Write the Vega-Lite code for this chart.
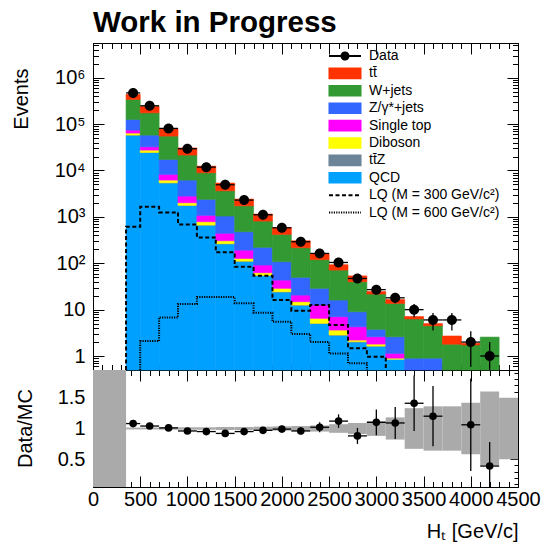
{
"$schema": "https://vega.github.io/schema/vega-lite/v6.json",
"autosize": {"type": "none"},
"width": 425,
"height": 444,
"padding": {"left": 93, "top": 43, "right": 26, "bottom": 55},
"background": "#ffffff",
"title": {"text": "Work in Progress", "anchor": "start", "frame": "group", "font": "Liberation Sans", "fontSize": 29.5, "fontWeight": "bold", "color": "#000000", "baseline": "alphabetic", "offset": 12, "dy": 31},
"config": {
  "view": {"stroke": "#000000", "strokeWidth": 1},
  "axis": {"labelFont": "Liberation Sans", "titleFont": "Liberation Sans", "labelFontSize": 20, "titleFontSize": 20, "titleFontWeight": "normal", "labelColor": "#000000", "titleColor": "#000000", "tickColor": "#000000", "domainColor": "#000000", "tickWidth": 1, "domainWidth": 1, "grid": false, "zindex": 1, "labelFlush": false, "labelOverlap": false, "minExtent": 0},
  "legend": {"labelFont": "Liberation Sans", "labelFontSize": 14, "labelColor": "#000000", "labelOffset": 7, "symbolOffset": 0, "rowPadding": 1.4, "clipHeight": 16, "padding": 0, "labelLimit": 300, "symbolSize": 1024, "symbolStrokeWidth": 2, "titlePadding": 0}
},
"datasets": {
  "mc": [
    {"lo":350,"hi":500,"series":"QCD","v":57900},
    {"lo":350,"hi":500,"series":"tt\u0304Z","v":100},
    {"lo":350,"hi":500,"series":"Diboson","v":6000},
    {"lo":350,"hi":500,"series":"Single top","v":10300},
    {"lo":350,"hi":500,"series":"Z/\u03b3*+jets","v":51700},
    {"lo":350,"hi":500,"series":"W+jets","v":215000},
    {"lo":350,"hi":500,"series":"tt\u0304","v":96000},
    {"lo":500,"hi":700,"series":"QCD","v":24400},
    {"lo":500,"hi":700,"series":"tt\u0304Z","v":100},
    {"lo":500,"hi":700,"series":"Diboson","v":3000},
    {"lo":500,"hi":700,"series":"Single top","v":4900},
    {"lo":500,"hi":700,"series":"Z/\u03b3*+jets","v":25500},
    {"lo":500,"hi":700,"series":"W+jets","v":117100},
    {"lo":500,"hi":700,"series":"tt\u0304","v":65000},
    {"lo":700,"hi":900,"series":"QCD","v":5400},
    {"lo":700,"hi":900,"series":"tt\u0304Z","v":30},
    {"lo":700,"hi":900,"series":"Diboson","v":780},
    {"lo":700,"hi":900,"series":"Single top","v":2030},
    {"lo":700,"hi":900,"series":"Z/\u03b3*+jets","v":9060},
    {"lo":700,"hi":900,"series":"W+jets","v":37800},
    {"lo":700,"hi":900,"series":"tt\u0304","v":24900},
    {"lo":900,"hi":1100,"series":"QCD","v":1760},
    {"lo":900,"hi":1100,"series":"tt\u0304Z","v":10},
    {"lo":900,"hi":1100,"series":"Diboson","v":244},
    {"lo":900,"hi":1100,"series":"Single top","v":792},
    {"lo":900,"hi":1100,"series":"Z/\u03b3*+jets","v":3404},
    {"lo":900,"hi":1100,"series":"W+jets","v":15290},
    {"lo":900,"hi":1100,"series":"tt\u0304","v":9100},
    {"lo":1100,"hi":1300,"series":"QCD","v":662},
    {"lo":1100,"hi":1300,"series":"tt\u0304Z","v":4},
    {"lo":1100,"hi":1300,"series":"Diboson","v":119},
    {"lo":1100,"hi":1300,"series":"Single top","v":292},
    {"lo":1100,"hi":1300,"series":"Z/\u03b3*+jets","v":1307},
    {"lo":1100,"hi":1300,"series":"W+jets","v":6546},
    {"lo":1100,"hi":1300,"series":"tt\u0304","v":3470},
    {"lo":1300,"hi":1500,"series":"QCD","v":262},
    {"lo":1300,"hi":1500,"series":"tt\u0304Z","v":2},
    {"lo":1300,"hi":1500,"series":"Diboson","v":41},
    {"lo":1300,"hi":1500,"series":"Single top","v":136},
    {"lo":1300,"hi":1500,"series":"Z/\u03b3*+jets","v":599},
    {"lo":1300,"hi":1500,"series":"W+jets","v":2610},
    {"lo":1300,"hi":1500,"series":"tt\u0304","v":1700},
    {"lo":1500,"hi":1700,"series":"QCD","v":110},
    {"lo":1500,"hi":1700,"series":"tt\u0304Z","v":1},
    {"lo":1500,"hi":1700,"series":"Diboson","v":16},
    {"lo":1500,"hi":1700,"series":"Single top","v":65},
    {"lo":1500,"hi":1700,"series":"Z/\u03b3*+jets","v":286},
    {"lo":1500,"hi":1700,"series":"W+jets","v":1256},
    {"lo":1500,"hi":1700,"series":"tt\u0304","v":686},
    {"lo":1700,"hi":1900,"series":"QCD","v":54.3},
    {"lo":1700,"hi":1900,"series":"tt\u0304Z","v":0.5},
    {"lo":1700,"hi":1900,"series":"Diboson","v":7.7},
    {"lo":1700,"hi":1900,"series":"Single top","v":29},
    {"lo":1700,"hi":1900,"series":"Z/\u03b3*+jets","v":128.5},
    {"lo":1700,"hi":1900,"series":"W+jets","v":592},
    {"lo":1700,"hi":1900,"series":"tt\u0304","v":338},
    {"lo":1900,"hi":2100,"series":"QCD","v":24},
    {"lo":1900,"hi":2100,"series":"tt\u0304Z","v":0.3},
    {"lo":1900,"hi":2100,"series":"Diboson","v":4.5},
    {"lo":1900,"hi":2100,"series":"Single top","v":14.6},
    {"lo":1900,"hi":2100,"series":"Z/\u03b3*+jets","v":64.6},
    {"lo":1900,"hi":2100,"series":"W+jets","v":311},
    {"lo":1900,"hi":2100,"series":"tt\u0304","v":171},
    {"lo":2100,"hi":2300,"series":"QCD","v":12.4},
    {"lo":2100,"hi":2300,"series":"tt\u0304Z","v":0.2},
    {"lo":2100,"hi":2300,"series":"Diboson","v":2.2},
    {"lo":2100,"hi":2300,"series":"Single top","v":5.8},
    {"lo":2100,"hi":2300,"series":"Z/\u03b3*+jets","v":29.1},
    {"lo":2100,"hi":2300,"series":"W+jets","v":166.3},
    {"lo":2100,"hi":2300,"series":"tt\u0304","v":89},
    {"lo":2300,"hi":2500,"series":"QCD","v":5.0},
    {"lo":2300,"hi":2500,"series":"tt\u0304Z","v":0.06},
    {"lo":2300,"hi":2500,"series":"Diboson","v":1.44},
    {"lo":2300,"hi":2500,"series":"Single top","v":6.1},
    {"lo":2300,"hi":2500,"series":"Z/\u03b3*+jets","v":16.2},
    {"lo":2300,"hi":2500,"series":"W+jets","v":91.2},
    {"lo":2300,"hi":2500,"series":"tt\u0304","v":40},
    {"lo":2500,"hi":2700,"series":"QCD","v":2.8},
    {"lo":2500,"hi":2700,"series":"tt\u0304Z","v":0.04},
    {"lo":2500,"hi":2700,"series":"Diboson","v":0.79},
    {"lo":2500,"hi":2700,"series":"Single top","v":3.41},
    {"lo":2500,"hi":2700,"series":"Z/\u03b3*+jets","v":9.06},
    {"lo":2500,"hi":2700,"series":"W+jets","v":55.2},
    {"lo":2500,"hi":2700,"series":"tt\u0304","v":21.7},
    {"lo":2700,"hi":2900,"series":"QCD","v":2.0},
    {"lo":2700,"hi":2900,"series":"tt\u0304Z","v":0.04},
    {"lo":2700,"hi":2900,"series":"Diboson","v":0.17},
    {"lo":2700,"hi":2900,"series":"Single top","v":2.07},
    {"lo":2700,"hi":2900,"series":"Z/\u03b3*+jets","v":4.72},
    {"lo":2700,"hi":2900,"series":"W+jets","v":30.9},
    {"lo":2700,"hi":2900,"series":"tt\u0304","v":13.5},
    {"lo":2900,"hi":3100,"series":"QCD","v":1.63},
    {"lo":2900,"hi":3100,"series":"tt\u0304Z","v":0.01},
    {"lo":2900,"hi":3100,"series":"Diboson","v":0.17},
    {"lo":2900,"hi":3100,"series":"Single top","v":0.79},
    {"lo":2900,"hi":3100,"series":"Z/\u03b3*+jets","v":1.16},
    {"lo":2900,"hi":3100,"series":"W+jets","v":17.94},
    {"lo":2900,"hi":3100,"series":"tt\u0304","v":2.8},
    {"lo":3100,"hi":3300,"series":"QCD","v":0.85},
    {"lo":3100,"hi":3300,"series":"Diboson","v":0.05},
    {"lo":3100,"hi":3300,"series":"Single top","v":0.24},
    {"lo":3100,"hi":3300,"series":"Z/\u03b3*+jets","v":1.46},
    {"lo":3100,"hi":3300,"series":"W+jets","v":11.0},
    {"lo":3100,"hi":3300,"series":"tt\u0304","v":2.9},
    {"lo":3300,"hi":3500,"series":"Z/\u03b3*+jets","v":0.9},
    {"lo":3300,"hi":3500,"series":"W+jets","v":5.4},
    {"lo":3300,"hi":3500,"series":"tt\u0304","v":0.8},
    {"lo":3500,"hi":3700,"series":"Z/\u03b3*+jets","v":0.9},
    {"lo":3500,"hi":3700,"series":"W+jets","v":3.6},
    {"lo":3500,"hi":3700,"series":"tt\u0304","v":0.5},
    {"lo":3700,"hi":3900,"series":"W+jets","v":1.8},
    {"lo":3700,"hi":3900,"series":"tt\u0304","v":0.9},
    {"lo":3900,"hi":4100,"series":"W+jets","v":1.73},
    {"lo":3900,"hi":4100,"series":"tt\u0304","v":0.16},
    {"lo":4100,"hi":4300,"series":"W+jets","v":2.56}
  ],
  "obs": [
    {"c":425,"lo":350,"hi":500,"n":470000,"nlo":469314,"nhi":470686,"series":"Data"},
    {"c":600,"lo":500,"hi":700,"n":248000,"nlo":247502,"nhi":248498,"series":"Data"},
    {"c":800,"lo":700,"hi":900,"n":80700,"nlo":80416,"nhi":80984,"series":"Data"},
    {"c":1000,"lo":900,"hi":1100,"n":29400,"nlo":29229,"nhi":29571,"series":"Data"},
    {"c":1200,"lo":1100,"hi":1300,"n":11800,"nlo":11691,"nhi":11909,"series":"Data"},
    {"c":1400,"lo":1300,"hi":1500,"n":4920,"nlo":4850,"nhi":4990,"series":"Data"},
    {"c":1600,"lo":1500,"hi":1700,"n":2300,"nlo":2252,"nhi":2348,"series":"Data"},
    {"c":1800,"lo":1700,"hi":1900,"n":1110,"nlo":1076.7,"nhi":1143.3,"series":"Data"},
    {"c":2000,"lo":1900,"hi":2100,"n":582,"nlo":557.9,"nhi":606.1,"series":"Data"},
    {"c":2200,"lo":2100,"hi":2300,"n":291,"nlo":273.9,"nhi":308.1,"series":"Data"},
    {"c":2400,"lo":2300,"hi":2500,"n":163,"nlo":150.2,"nhi":175.8,"series":"Data"},
    {"c":2600,"lo":2500,"hi":2700,"n":104,"nlo":93.8,"nhi":114.2,"series":"Data"},
    {"c":2800,"lo":2700,"hi":2900,"n":47,"nlo":40.14,"nhi":53.86,"series":"Data"},
    {"c":3000,"lo":2900,"hi":3100,"n":27,"nlo":21.8,"nhi":32.2,"series":"Data"},
    {"c":3200,"lo":3100,"hi":3300,"n":18,"nlo":13.76,"nhi":22.24,"series":"Data"},
    {"c":3400,"lo":3300,"hi":3500,"n":10,"nlo":6.84,"nhi":13.16,"series":"Data"},
    {"c":3600,"lo":3500,"hi":3700,"n":6,"nlo":3.55,"nhi":8.45,"series":"Data"},
    {"c":3800,"lo":3700,"hi":3900,"n":6,"nlo":3.55,"nhi":8.45,"series":"Data"},
    {"c":4000,"lo":3900,"hi":4100,"n":2,"nlo":0.59,"nhi":3.41,"series":"Data"},
    {"c":4200,"lo":4100,"hi":4300,"n":1,"nlo":0,"nhi":2,"series":"Data"}
  ],
  "lq": [
    {"series":"LQ (M = 300 GeV/c\u00b2)","i":0,"x":350,"y":0},
    {"series":"LQ (M = 300 GeV/c\u00b2)","i":1,"x":350,"y":612},
    {"series":"LQ (M = 300 GeV/c\u00b2)","i":2,"x":500,"y":1650},
    {"series":"LQ (M = 300 GeV/c\u00b2)","i":3,"x":700,"y":1250},
    {"series":"LQ (M = 300 GeV/c\u00b2)","i":4,"x":900,"y":689},
    {"series":"LQ (M = 300 GeV/c\u00b2)","i":5,"x":1100,"y":361},
    {"series":"LQ (M = 300 GeV/c\u00b2)","i":6,"x":1300,"y":172},
    {"series":"LQ (M = 300 GeV/c\u00b2)","i":7,"x":1500,"y":84},
    {"series":"LQ (M = 300 GeV/c\u00b2)","i":8,"x":1700,"y":53.8},
    {"series":"LQ (M = 300 GeV/c\u00b2)","i":9,"x":1900,"y":16.1},
    {"series":"LQ (M = 300 GeV/c\u00b2)","i":10,"x":2100,"y":9.5},
    {"series":"LQ (M = 300 GeV/c\u00b2)","i":11,"x":2300,"y":12.6},
    {"series":"LQ (M = 300 GeV/c\u00b2)","i":12,"x":2500,"y":4.66},
    {"series":"LQ (M = 300 GeV/c\u00b2)","i":13,"x":2700,"y":1.47},
    {"series":"LQ (M = 300 GeV/c\u00b2)","i":14,"x":2900,"y":0.97},
    {"series":"LQ (M = 300 GeV/c\u00b2)","i":15,"x":3100,"y":0},
    {"series":"LQ (M = 600 GeV/c\u00b2)","i":0,"x":500,"y":0},
    {"series":"LQ (M = 600 GeV/c\u00b2)","i":1,"x":500,"y":2.1},
    {"series":"LQ (M = 600 GeV/c\u00b2)","i":2,"x":700,"y":6.8},
    {"series":"LQ (M = 600 GeV/c\u00b2)","i":3,"x":900,"y":13.2},
    {"series":"LQ (M = 600 GeV/c\u00b2)","i":4,"x":1100,"y":18.7},
    {"series":"LQ (M = 600 GeV/c\u00b2)","i":5,"x":1300,"y":18.7},
    {"series":"LQ (M = 600 GeV/c\u00b2)","i":6,"x":1500,"y":13.7},
    {"series":"LQ (M = 600 GeV/c\u00b2)","i":7,"x":1700,"y":8.6},
    {"series":"LQ (M = 600 GeV/c\u00b2)","i":8,"x":1900,"y":5.5},
    {"series":"LQ (M = 600 GeV/c\u00b2)","i":9,"x":2100,"y":2.98},
    {"series":"LQ (M = 600 GeV/c\u00b2)","i":10,"x":2300,"y":2.0},
    {"series":"LQ (M = 600 GeV/c\u00b2)","i":11,"x":2500,"y":1.14},
    {"series":"LQ (M = 600 GeV/c\u00b2)","i":12,"x":2700,"y":0.7},
    {"series":"LQ (M = 600 GeV/c\u00b2)","i":13,"x":2900,"y":0}
  ],
  "ratio": [
    {"c":425,"lo":350,"hi":500,"r":1.08,"rlo":1.078,"rhi":1.082},
    {"c":600,"lo":500,"hi":700,"r":1.04,"rlo":1.038,"rhi":1.042},
    {"c":800,"lo":700,"hi":900,"r":1.01,"rlo":1.006,"rhi":1.014},
    {"c":1000,"lo":900,"hi":1100,"r":0.96,"rlo":0.954,"rhi":0.966},
    {"c":1200,"lo":1100,"hi":1300,"r":0.95,"rlo":0.941,"rhi":0.959},
    {"c":1400,"lo":1300,"hi":1500,"r":0.92,"rlo":0.907,"rhi":0.933},
    {"c":1600,"lo":1500,"hi":1700,"r":0.95,"rlo":0.93,"rhi":0.97},
    {"c":1800,"lo":1700,"hi":1900,"r":0.97,"rlo":0.941,"rhi":0.999},
    {"c":2000,"lo":1900,"hi":2100,"r":0.99,"rlo":0.949,"rhi":1.031},
    {"c":2200,"lo":2100,"hi":2300,"r":0.96,"rlo":0.904,"rhi":1.016},
    {"c":2400,"lo":2300,"hi":2500,"r":1.02,"rlo":0.94,"rhi":1.1},
    {"c":2600,"lo":2500,"hi":2700,"r":1.12,"rlo":1.01,"rhi":1.23},
    {"c":2800,"lo":2700,"hi":2900,"r":0.88,"rlo":0.75,"rhi":1.01},
    {"c":3000,"lo":2900,"hi":3100,"r":1.1,"rlo":0.89,"rhi":1.31},
    {"c":3200,"lo":3100,"hi":3300,"r":1.09,"rlo":0.83,"rhi":1.35},
    {"c":3400,"lo":3300,"hi":3500,"r":1.41,"rlo":0.96,"rhi":1.86},
    {"c":3600,"lo":3500,"hi":3700,"r":1.2,"rlo":0.71,"rhi":1.69},
    {"c":4000,"lo":3900,"hi":4100,"r":1.06,"rlo":0.31,"rhi":1.81},
    {"c":4200,"lo":4100,"hi":4300,"r":0.39,"rlo":0,"rhi":0.78}
  ],
  "band": [
    {"lo":0,"hi":350,"blo":0,"bhi":2},
    {"lo":350,"hi":500,"blo":0.985,"bhi":1.015},
    {"lo":500,"hi":700,"blo":0.985,"bhi":1.015},
    {"lo":700,"hi":900,"blo":0.98,"bhi":1.02},
    {"lo":900,"hi":1100,"blo":0.98,"bhi":1.02},
    {"lo":1100,"hi":1300,"blo":0.98,"bhi":1.02},
    {"lo":1300,"hi":1500,"blo":0.975,"bhi":1.025},
    {"lo":1500,"hi":1700,"blo":0.975,"bhi":1.025},
    {"lo":1700,"hi":1900,"blo":0.97,"bhi":1.03},
    {"lo":1900,"hi":2100,"blo":0.965,"bhi":1.035},
    {"lo":2100,"hi":2300,"blo":0.96,"bhi":1.04},
    {"lo":2300,"hi":2500,"blo":0.95,"bhi":1.05},
    {"lo":2500,"hi":2700,"blo":0.93,"bhi":1.07},
    {"lo":2700,"hi":2900,"blo":0.91,"bhi":1.09},
    {"lo":2900,"hi":3100,"blo":0.88,"bhi":1.12},
    {"lo":3100,"hi":3300,"blo":0.82,"bhi":1.18},
    {"lo":3300,"hi":3500,"blo":0.67,"bhi":1.33},
    {"lo":3500,"hi":3700,"blo":0.64,"bhi":1.36},
    {"lo":3700,"hi":3900,"blo":0.64,"bhi":1.36},
    {"lo":3900,"hi":4100,"blo":0.58,"bhi":1.42},
    {"lo":4100,"hi":4300,"blo":0.4,"bhi":1.6},
    {"lo":4300,"hi":4500,"blo":0.5,"bhi":1.5}
  ]
},
"layer": [
  {
    "data": {"name": "mc"},
    "transform": [{"stack": "v", "groupby": ["lo"], "as": ["y0", "y1"]}],
    "mark": {"type": "rect", "strokeWidth": 0.6},
    "encoding": {
      "x": {"field": "lo", "type": "quantitative", "scale": {"domain": [0, 4500], "nice": false, "zero": false},
            "axis": {"orient": "bottom", "values": [0,500,1000,1500,2000,2500,3000,3500,4000,4500], "ticks": false, "domain": false, "labels": true, "labelPadding": 2, "format": "d", "title": "H\u209c [GeV/c]", "titleAlign": "right", "titleAnchor": "end", "titleBaseline": "alphabetic", "titleX": 425, "titleY": 50, "titleAngle": 0}},
      "x2": {"field": "hi"},
      "y": {"field": "y1", "type": "quantitative", "stack": null, "scale": {"type": "log", "domain": [0.5, 5600000], "range": [327, 0], "clamp": true, "nice": false},
            "axis": {"orient": "left", "values": [1,10,100,1000,10000,100000,1000000], "ticks": false, "domain": false, "labelPadding": 8, "labelBaseline": "middle", "labelAlign": "right", "labelExpr": "datum.value < 5 ? '1' : datum.value < 50 ? '10' : datum.value < 500 ? '10\u00b2' : datum.value < 5000 ? '10\u00b3' : datum.value < 50000 ? '10\u2074' : datum.value < 500000 ? '10\u2075' : '10\u2076'", "title": "Events", "titleAngle": -90, "titleAlign": "right", "titleBaseline": "alphabetic", "titleX": -66, "titleY": 25}},
      "y2": {"field": "y0"},
      "color": {"field": "series", "type": "nominal",
                "scale": {"domain": ["Data","tt\u0304","W+jets","Z/\u03b3*+jets","Single top","Diboson","tt\u0304Z","QCD","LQ (M = 300 GeV/c\u00b2)","LQ (M = 600 GeV/c\u00b2)"], "range": ["#000000","#ff3300","#339933","#3366ff","#ff00ff","#ffff00","#6c8497","#00a0ff","#000000","#000000"]},
                "legend": {"title": null, "orient": "none", "legendX": 235, "legendY": 5, "encode": {"symbols": {"update": {"fill": {"scale": "color", "field": "value"}, "stroke": {"scale": "color", "field": "value"}, "shape": {"scale": "shape", "field": "value"}, "strokeDash": {"scale": "strokeDash", "field": "value"}, "strokeWidth": {"value": 2}, "size": {"value": 1024}, "opacity": {"value": 1}}}}}},
      "stroke": {"field": "series", "type": "nominal",
                "scale": {"domain": ["Data","tt\u0304","W+jets","Z/\u03b3*+jets","Single top","Diboson","tt\u0304Z","QCD","LQ (M = 300 GeV/c\u00b2)","LQ (M = 600 GeV/c\u00b2)"], "range": ["#000000","#ff3300","#339933","#3366ff","#ff00ff","#ffff00","#6c8497","#00a0ff","#000000","#000000"]},
                "legend": {"title": null, "orient": "none", "legendX": 235, "legendY": 5, "encode": {"symbols": {"update": {"fill": {"scale": "color", "field": "value"}, "stroke": {"scale": "color", "field": "value"}, "shape": {"scale": "shape", "field": "value"}, "strokeDash": {"scale": "strokeDash", "field": "value"}, "strokeWidth": {"value": 2}, "size": {"value": 1024}, "opacity": {"value": 1}}}}}}
    }
  },
  {
    "data": {"name": "lq"},
    "mark": {"type": "line", "interpolate": "step-after", "strokeWidth": 2},
    "encoding": {
      "x": {"field": "x", "type": "quantitative", "scale": {"domain": [0, 4500], "nice": false, "zero": false},
            "axis": {"orient": "bottom", "values": [0,500,1000,1500,2000,2500,3000,3500,4000,4500], "labels": false, "domain": true, "tickSize": -11, "title": null}},
      "y": {"field": "y", "type": "quantitative", "scale": {"type": "log", "domain": [0.5, 5600000], "range": [327, 0], "clamp": true, "nice": false},
            "axis": {"orient": "left", "values": [1,10,100,1000,10000,100000,1000000], "labels": false, "domain": true, "tickSize": -11, "title": null}},
      "color": {"field": "series", "type": "nominal",
                "scale": {"domain": ["Data","tt\u0304","W+jets","Z/\u03b3*+jets","Single top","Diboson","tt\u0304Z","QCD","LQ (M = 300 GeV/c\u00b2)","LQ (M = 600 GeV/c\u00b2)"], "range": ["#000000","#ff3300","#339933","#3366ff","#ff00ff","#ffff00","#6c8497","#00a0ff","#000000","#000000"]},
                "legend": {"title": null, "orient": "none", "legendX": 235, "legendY": 5, "encode": {"symbols": {"update": {"fill": {"scale": "color", "field": "value"}, "stroke": {"scale": "color", "field": "value"}, "shape": {"scale": "shape", "field": "value"}, "strokeDash": {"scale": "strokeDash", "field": "value"}, "strokeWidth": {"value": 2}, "size": {"value": 1024}, "opacity": {"value": 1}}}}}},
      "strokeDash": {"field": "series", "type": "nominal",
                "scale": {"domain": ["Data","tt\u0304","W+jets","Z/\u03b3*+jets","Single top","Diboson","tt\u0304Z","QCD","LQ (M = 300 GeV/c\u00b2)","LQ (M = 600 GeV/c\u00b2)"], "range": [[1,0],[1,0],[1,0],[1,0],[1,0],[1,0],[1,0],[1,0],[4,2.5],[1.2,1.2]]},
                "legend": {"title": null, "orient": "none", "legendX": 235, "legendY": 5, "encode": {"symbols": {"update": {"fill": {"scale": "color", "field": "value"}, "stroke": {"scale": "color", "field": "value"}, "shape": {"scale": "shape", "field": "value"}, "strokeDash": {"scale": "strokeDash", "field": "value"}, "strokeWidth": {"value": 2}, "size": {"value": 1024}, "opacity": {"value": 1}}}}}},
      "order": {"field": "i", "type": "quantitative"}
    }
  },
  {
    "data": {"name": "obs"},
    "mark": {"type": "rule", "color": "#000000", "strokeWidth": 1.3},
    "encoding": {
      "x": {"field": "lo", "type": "quantitative", "scale": {"domain": [0, 4500], "nice": false, "zero": false},
            "axis": {"orient": "bottom", "values": [100,200,300,400,600,700,800,900,1100,1200,1300,1400,1600,1700,1800,1900,2100,2200,2300,2400,2600,2700,2800,2900,3100,3200,3300,3400,3600,3700,3800,3900,4100,4200,4300,4400], "labels": false, "domain": false, "tickSize": -5.5, "title": null}},
      "x2": {"field": "hi"},
      "y": {"field": "n", "type": "quantitative", "scale": {"type": "log", "domain": [0.5, 5600000], "range": [327, 0], "clamp": true, "nice": false},
            "axis": {"orient": "left", "values": [0.6,0.7,0.8,0.9,2,3,4,5,6,7,8,9,20,30,40,50,60,70,80,90,200,300,400,500,600,700,800,900,2000,3000,4000,5000,6000,7000,8000,9000,20000,30000,40000,50000,60000,70000,80000,90000,200000,300000,400000,500000,600000,700000,800000,900000,2000000,3000000,4000000,5000000], "labels": false, "domain": false, "tickSize": -5.5, "title": null}}
    }
  },
  {
    "data": {"name": "obs"},
    "mark": {"type": "rule", "color": "#000000", "strokeWidth": 1.3},
    "encoding": {
      "x": {"field": "c", "type": "quantitative", "scale": {"domain": [0, 4500], "nice": false, "zero": false},
            "axis": {"orient": "bottom", "offset": -117, "values": [0,500,1000,1500,2000,2500,3000,3500,4000,4500], "labels": false, "domain": true, "tickSize": -11, "title": null}},
      "y": {"field": "nlo", "type": "quantitative", "scale": {"type": "log", "domain": [0.5, 5600000], "range": [327, 0], "clamp": true, "nice": false},
            "axis": {"orient": "right", "values": [1,10,100,1000,10000,100000,1000000], "labels": false, "domain": true, "tickSize": -11, "title": null}},
      "y2": {"field": "nhi"}
    }
  },
  {
    "data": {"name": "obs"},
    "mark": {"type": "point", "filled": true, "opacity": 1, "size": 2066, "strokeWidth": 0},
    "encoding": {
      "x": {"field": "c", "type": "quantitative", "scale": {"domain": [0, 4500], "nice": false, "zero": false},
            "axis": {"orient": "bottom", "offset": -117, "values": [100,200,300,400,600,700,800,900,1100,1200,1300,1400,1600,1700,1800,1900,2100,2200,2300,2400,2600,2700,2800,2900,3100,3200,3300,3400,3600,3700,3800,3900,4100,4200,4300,4400], "labels": false, "domain": false, "tickSize": -5.5, "title": null}},
      "y": {"field": "n", "type": "quantitative", "scale": {"type": "log", "domain": [0.5, 5600000], "range": [327, 0], "clamp": true, "nice": false},
            "axis": {"orient": "right", "values": [0.6,0.7,0.8,0.9,2,3,4,5,6,7,8,9,20,30,40,50,60,70,80,90,200,300,400,500,600,700,800,900,2000,3000,4000,5000,6000,7000,8000,9000,20000,30000,40000,50000,60000,70000,80000,90000,200000,300000,400000,500000,600000,700000,800000,900000,2000000,3000000,4000000,5000000], "labels": false, "domain": false, "tickSize": -5.5, "title": null}},
      "color": {"field": "series", "type": "nominal",
                "scale": {"domain": ["Data","tt\u0304","W+jets","Z/\u03b3*+jets","Single top","Diboson","tt\u0304Z","QCD","LQ (M = 300 GeV/c\u00b2)","LQ (M = 600 GeV/c\u00b2)"], "range": ["#000000","#ff3300","#339933","#3366ff","#ff00ff","#ffff00","#6c8497","#00a0ff","#000000","#000000"]},
                "legend": {"title": null, "orient": "none", "legendX": 235, "legendY": 5, "encode": {"symbols": {"update": {"fill": {"scale": "color", "field": "value"}, "stroke": {"scale": "color", "field": "value"}, "shape": {"scale": "shape", "field": "value"}, "strokeDash": {"scale": "strokeDash", "field": "value"}, "strokeWidth": {"value": 2}, "size": {"value": 1024}, "opacity": {"value": 1}}}}}},
      "shape": {"field": "series", "type": "nominal",
                "scale": {"domain": ["Data","tt\u0304","W+jets","Z/\u03b3*+jets","Single top","Diboson","tt\u0304Z","QCD","LQ (M = 300 GeV/c\u00b2)","LQ (M = 600 GeV/c\u00b2)"], "range": ["M-1,0H1M-0.22,0A0.22,0.22,0,1,1,0.22,0A0.22,0.22,0,1,1,-0.22,0Z","M-0.97,-0.3H0.97V0.3H-0.97Z","M-0.97,-0.3H0.97V0.3H-0.97Z","M-0.97,-0.3H0.97V0.3H-0.97Z","M-0.97,-0.3H0.97V0.3H-0.97Z","M-0.97,-0.3H0.97V0.3H-0.97Z","M-0.97,-0.3H0.97V0.3H-0.97Z","M-0.97,-0.3H0.97V0.3H-0.97Z","M-1,0H1","M-1,0H1"]},
                "legend": {"title": null, "orient": "none", "legendX": 235, "legendY": 5, "encode": {"symbols": {"update": {"fill": {"scale": "color", "field": "value"}, "stroke": {"scale": "color", "field": "value"}, "shape": {"scale": "shape", "field": "value"}, "strokeDash": {"scale": "strokeDash", "field": "value"}, "strokeWidth": {"value": 2}, "size": {"value": 1024}, "opacity": {"value": 1}}}}}}
    }
  },
  {
    "data": {"name": "band"},
    "mark": {"type": "rect", "color": "#aaaaaa"},
    "encoding": {
      "x": {"field": "lo", "type": "quantitative", "scale": {"domain": [0, 4500], "nice": false, "zero": false},
            "axis": {"orient": "top", "offset": -327, "values": [0,500,1000,1500,2000,2500,3000,3500,4000,4500], "labels": false, "domain": false, "tickSize": -11, "title": null}},
      "x2": {"field": "hi"},
      "y": {"field": "blo", "type": "quantitative", "scale": {"domain": [0.05, 1.95], "range": [444, 327], "clamp": true, "nice": false, "zero": false},
            "axis": {"orient": "left", "values": [0.5, 1, 1.5], "ticks": false, "domain": false, "labelPadding": 8, "format": "~g", "title": "Data/MC", "titleAngle": -90, "titleAlign": "center", "titleBaseline": "alphabetic", "titleX": -62, "titleY": 385}},
      "y2": {"field": "bhi"}
    }
  },
  {
    "data": {"name": "ratio"},
    "mark": {"type": "rule", "color": "#000000", "strokeWidth": 1.3},
    "encoding": {
      "x": {"field": "lo", "type": "quantitative", "scale": {"domain": [0, 4500], "nice": false, "zero": false},
            "axis": {"orient": "top", "offset": -327, "values": [100,200,300,400,600,700,800,900,1100,1200,1300,1400,1600,1700,1800,1900,2100,2200,2300,2400,2600,2700,2800,2900,3100,3200,3300,3400,3600,3700,3800,3900,4100,4200,4300,4400], "labels": false, "domain": false, "tickSize": -5.5, "title": null}},
      "x2": {"field": "hi"},
      "y": {"field": "r", "type": "quantitative", "scale": {"domain": [0.05, 1.95], "range": [444, 327], "clamp": true, "nice": false, "zero": false},
            "axis": {"orient": "left", "values": [0.5, 1, 1.5], "labels": false, "domain": true, "tickSize": -8, "title": null}}
    }
  },
  {
    "data": {"name": "ratio"},
    "mark": {"type": "rule", "color": "#000000", "strokeWidth": 1.3},
    "encoding": {
      "x": {"field": "c", "type": "quantitative", "scale": {"domain": [0, 4500], "nice": false, "zero": false},
            "axis": {"orient": "top", "values": [0,500,1000,1500,2000,2500,3000,3500,4000,4500], "labels": false, "domain": true, "tickSize": -11, "title": null}},
      "y": {"field": "rlo", "type": "quantitative", "scale": {"domain": [0.05, 1.95], "range": [444, 327], "clamp": true, "nice": false, "zero": false},
            "axis": {"orient": "left", "values": [0.1,0.2,0.3,0.4,0.6,0.7,0.8,0.9,1.1,1.2,1.3,1.4,1.6,1.7,1.8,1.9], "labels": false, "domain": false, "tickSize": -4, "title": null}},
      "y2": {"field": "rhi"}
    }
  },
  {
    "data": {"name": "ratio"},
    "mark": {"type": "point", "shape": "circle", "filled": true, "opacity": 1, "size": 58, "color": "#000000"},
    "encoding": {
      "x": {"field": "c", "type": "quantitative", "scale": {"domain": [0, 4500], "nice": false, "zero": false},
            "axis": {"orient": "top", "values": [100,200,300,400,600,700,800,900,1100,1200,1300,1400,1600,1700,1800,1900,2100,2200,2300,2400,2600,2700,2800,2900,3100,3200,3300,3400,3600,3700,3800,3900,4100,4200,4300,4400], "labels": false, "domain": false, "tickSize": -5.5, "title": null}},
      "y": {"field": "r", "type": "quantitative", "scale": {"domain": [0.05, 1.95], "range": [444, 327], "clamp": true, "nice": false, "zero": false},
            "axis": {"orient": "right", "values": [0.5, 1, 1.5], "labels": false, "domain": true, "tickSize": -8, "title": null}}
    }
  },
  {
    "mark": {"type": "rule", "color": "#aaaaaa", "strokeWidth": 1},
    "encoding": {
      "y": {"datum": 1, "type": "quantitative", "scale": {"domain": [0.05, 1.95], "range": [444, 327], "clamp": true, "nice": false, "zero": false},
            "axis": {"orient": "right", "values": [0.1,0.2,0.3,0.4,0.6,0.7,0.8,0.9,1.1,1.2,1.3,1.4,1.6,1.7,1.8,1.9], "labels": false, "domain": false, "tickSize": -4, "title": null}}
    }
  }
],
"resolve": {"scale": {"y": "independent"}, "axis": {"x": "independent", "y": "independent"}}
}
